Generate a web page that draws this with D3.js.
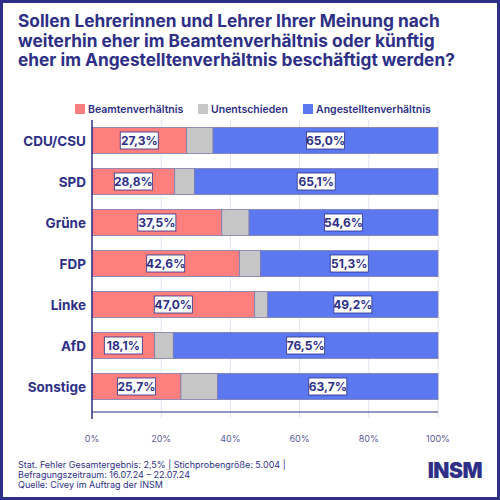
<!DOCTYPE html>
<html>
<head>
<meta charset="utf-8">
<script src="https://cdn.jsdelivr.net/npm/d3@7"></script>
<style>
  body { margin: 0; background: #fff; }
  svg { display: block; font-family: Inter, 'Open Sans', sans-serif; }
</style>
</head>
<body>
<div id="chart"></div>
<script>
const parties = ['CDU/CSU', 'SPD', 'Grüne', 'FDP', 'Linke', 'AfD', 'Sonstige'];
// bar lengths as drawn in the original (SPD bar is drawn shorter than its label)
const beamte = [27.3, 23.9, 37.5, 42.6, 47.0, 18.1, 25.7];
const unentschieden = [7.7, 5.7, 7.9, 6.1, 3.8, 5.4, 10.6];
const angestellte = [65.0, 70.4, 54.6, 51.3, 49.2, 76.5, 63.7];
// printed labels
const beamteLabels = ['27,3%', '28,8%', '37,5%', '42,6%', '47,0%', '18,1%', '25,7%'];
const angestellteLabels = ['65,0%', '65,1%', '54,6%', '51,3%', '49,2%', '76,5%', '63,7%'];
const seriesNames = ['Beamtenverhältnis', 'Unentschieden', 'Angestelltenverhältnis'];
const ticks = [0, 20, 40, 60, 80, 100];
const titleLines = [
  'Sollen Lehrerinnen und Lehrer Ihrer Meinung nach',
  'weiterhin eher im Beamtenverhältnis oder künftig',
  'eher im Angestelltenverhältnis beschäftigt werden?',
];
const footerLines = [
  'Stat. Fehler Gesamtergebnis: 2,5% | Stichprobengröße: 5.004 |',
  'Befragungszeitraum: 16.07.24 – 22.07.24',
  'Quelle: Civey im Auftrag der INSM',
];

const navy = '#2e2f86';
const colors = ['#ff7f7f', '#c6c6c6', '#5b78f0'];
const W = 500;
const H = 500;

const svg = d3.select('#chart').append('svg')
  .attr('width', W)
  .attr('height', H);

// frame
svg.append('rect')
  .attr('x', 1.5).attr('y', 1.5)
  .attr('width', W - 3).attr('height', H - 3)
  .attr('fill', '#fff')
  .attr('stroke', navy)
  .attr('stroke-width', 3);

svg.append('g').selectAll('text')
  .data(titleLines)
  .join('text')
    .attr('x', 18)
    .attr('y', (d, i) => 27 + i * 19.5)
    .attr('fill', navy)
    .attr('font-size', 17.3)
    .attr('font-weight', 700)
    .text(d => d);

const x = d3.scaleLinear().domain([0, 100]).range([92, 438]);
const y = d3.scaleBand().domain(parties).range([120, 407])
  .paddingInner(0.366).paddingOuter(0.183);

const rows = parties.map((p, i) => ({
  party: p,
  values: [beamte[i], unentschieden[i], angestellte[i]],
  labels: [beamteLabels[i], null, angestellteLabels[i]],
}));

// gridlines
svg.append('g').selectAll('line')
  .data(ticks.slice(1))
  .join('line')
    .attr('x1', d => x(d)).attr('x2', d => x(d))
    .attr('y1', 120).attr('y2', 418)
    .attr('stroke', '#e3e2f0')
    .attr('stroke-width', 1);

// legend
const legendX = [75, 198, 303];
const legend = svg.append('g').selectAll('g')
  .data(seriesNames)
  .join('g')
    .attr('transform', (d, i) => `translate(${legendX[i]},104)`);
legend.append('rect')
  .attr('width', 10).attr('height', 10)
  .attr('fill', (d, i) => colors[i]);
legend.append('text')
  .attr('x', 13).attr('y', 9)
  .attr('fill', navy)
  .attr('font-size', 10.5)
  .attr('font-weight', 600)
  .text(d => d);

// bars
const rowG = svg.append('g').selectAll('g')
  .data(rows)
  .join('g')
    .attr('transform', d => `translate(0,${y(d.party)})`);

const segs = rowG.selectAll('g')
  .data(d => {
    let acc = 0;
    return d.values.map((v, i) => {
      const s = { start: acc, end: acc + v, label: d.labels[i], i };
      acc += v;
      return s;
    });
  })
  .join('g');

segs.append('rect')
  .attr('x', d => x(d.start))
  .attr('width', d => x(d.end) - x(d.start))
  .attr('height', y.bandwidth())
  .attr('fill', d => colors[d.i])
  .attr('stroke', '#7c7bb0')
  .attr('stroke-width', 0.8);

const labels = segs.filter(d => d.label);
labels.append('rect')
  .attr('x', d => (x(d.start) + x(d.end)) / 2 - 19)
  .attr('y', y.bandwidth() / 2 - 8.5)
  .attr('width', 38)
  .attr('height', 17)
  .attr('fill', '#fff')
  .attr('stroke', navy)
  .attr('stroke-width', 0.8);
labels.append('text')
  .attr('x', d => (x(d.start) + x(d.end)) / 2)
  .attr('y', y.bandwidth() / 2 + 4.5)
  .attr('text-anchor', 'middle')
  .attr('fill', navy)
  .attr('font-size', 12)
  .attr('font-weight', 700)
  .text(d => d.label);

// category labels
svg.append('g').selectAll('text')
  .data(parties)
  .join('text')
    .attr('x', 86)
    .attr('y', d => y(d) + y.bandwidth() / 2 + 5)
    .attr('text-anchor', 'end')
    .attr('fill', navy)
    .attr('font-size', 13.5)
    .attr('font-weight', 700)
    .text(d => d);

// axes lines
svg.append('line')
  .attr('x1', 92).attr('x2', 92).attr('y1', 120).attr('y2', 419)
  .attr('stroke', navy).attr('stroke-width', 1.5);
svg.append('line')
  .attr('x1', 92).attr('x2', 438).attr('y1', 412).attr('y2', 412)
  .attr('stroke', navy).attr('stroke-width', 1.2);

svg.append('g').selectAll('text')
  .data(ticks)
  .join('text')
    .attr('x', d => x(d))
    .attr('y', 442)
    .attr('text-anchor', 'middle')
    .attr('fill', '#5a5a9a')
    .attr('font-size', 9)
    .text(d => `${d}%`);

// footer
svg.append('g').selectAll('text')
  .data(footerLines)
  .join('text')
    .attr('x', 18)
    .attr('y', (d, i) => 468 + i * 10)
    .attr('fill', navy)
    .attr('font-size', 9)
    .text(d => d);

svg.append('text')
  .attr('x', 482)
  .attr('y', 478)
  .attr('text-anchor', 'end')
  .attr('fill', navy)
  .attr('font-size', 21)
  .attr('font-weight', 900)
  .attr('letter-spacing', -0.5)
  .attr('font-family', 'Inter, sans-serif')
  .text('INSM');
</script>
</body>
</html>
